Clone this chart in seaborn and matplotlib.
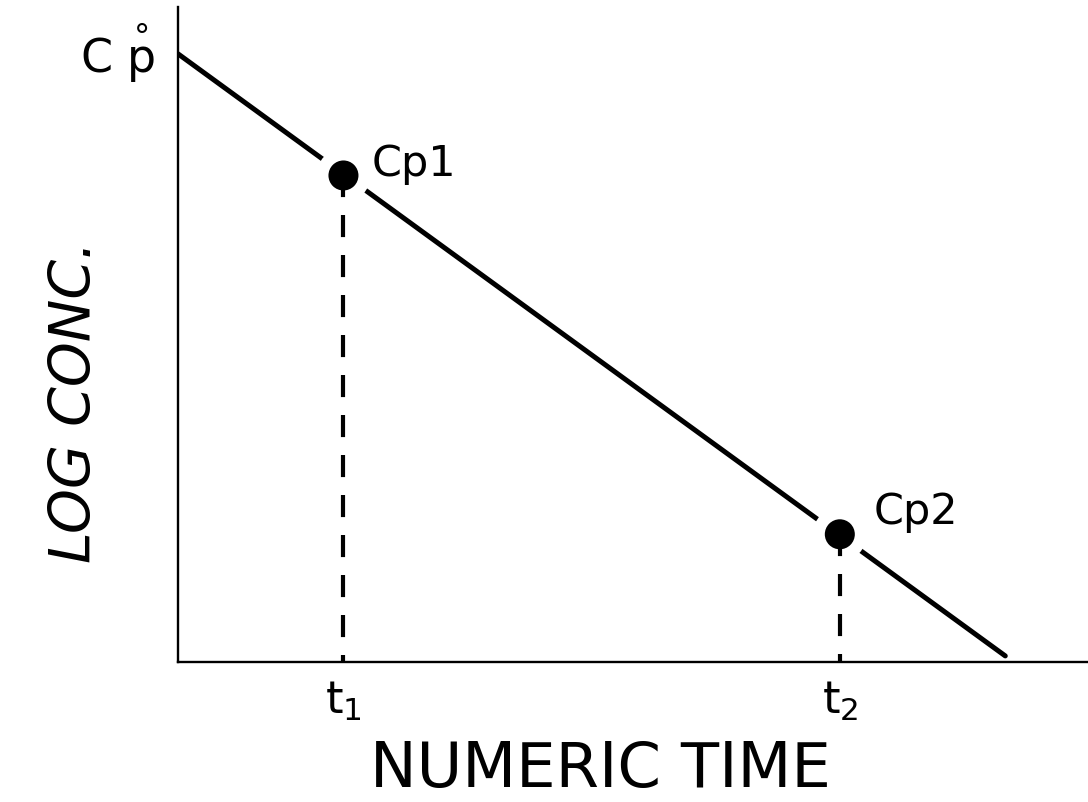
import matplotlib
matplotlib.use("Agg")
import matplotlib.pyplot as plt
import pandas as pd
import seaborn as sns

# Mono-exponential elimination plotted on a log-concentration axis
line_time = [0.0, 10.0]
line_logc = [1.0, 0.01]

sample_times = [2.0, 8.0]
sample_logc = [0.80, 0.21]
sample_labels = ["Cp1", "Cp2"]
time_tick_labels = ["t$_1$", "t$_2$"]

initial_logc = 1.0
initial_label = r"C $\overset{\circ}{\mathrm{p}}$"

sns.set_style("white")
plt.rcParams["font.family"] = ["DejaVu Sans"]
plt.rcParams["mathtext.fontset"] = "dejavusans"
plt.rcParams["text.color"] = "black"
plt.rcParams["axes.labelcolor"] = "black"

fig = plt.figure(figsize=(10.88, 8.03), dpi=100)
ax = fig.add_axes([178 / 1088, 1 - 663 / 803, 910 / 1088, 655 / 803])

line_df = pd.DataFrame({"time": line_time, "log_conc": line_logc})
samples_df = pd.DataFrame({"time": sample_times, "log_conc": sample_logc,
                           "label": sample_labels})

# Elimination line
sns.lineplot(data=line_df, x="time", y="log_conc", color="black",
             linewidth=3.6, ax=ax, zorder=2)

# White halo around each sample so the line breaks at the points
sns.scatterplot(data=samples_df, x="time", y="log_conc", s=1513,
                color="white", edgecolor="none", ax=ax, zorder=3)

# Dashed drop lines from each sample to the time axis
for t, c in zip(sample_times, sample_logc):
    ax.plot([t, t], [c, 0], color="black", linewidth=3.0,
            dashes=(5.3, 4.3), dash_capstyle="butt", zorder=4)

# Sample points
sns.scatterplot(data=samples_df, x="time", y="log_conc", s=467,
                color="black", edgecolor="none", ax=ax, zorder=5)

# Point labels
label_offsets = [(20, 0), (24, 8)]
for (t, c, lab), off in zip(zip(sample_times, sample_logc, sample_labels),
                            label_offsets):
    ax.annotate(lab, (t, c), xytext=off, textcoords="offset points",
                ha="left", va="baseline", fontsize=31, color="black")

# Initial concentration label on the y axis
ax.text(-0.28, initial_logc - 0.03, initial_label, ha="right",
        va="baseline", fontsize=33, color="black", clip_on=False)

ax.set_xlim(0, 11.0)
ax.set_ylim(0, 1.077)

ax.set_xticks(sample_times, labels=time_tick_labels)
ax.set_yticks([])
ax.tick_params(axis="x", length=0, pad=12, labelsize=32, colors="black")

ax.set_xlabel("NUMERIC TIME", fontsize=45, color="black", va="center")
ax.xaxis.set_label_coords(0.464, -0.163)
ax.set_ylabel("LOG CONC.", fontsize=41, fontstyle="italic", color="black",
              va="center")
ax.yaxis.set_label_coords(-0.113, 0.398)

sns.despine(ax=ax)
for side in ("left", "bottom"):
    ax.spines[side].set_color("black")
    ax.spines[side].set_linewidth(1.7)

fig.savefig("out.png", dpi=100)
